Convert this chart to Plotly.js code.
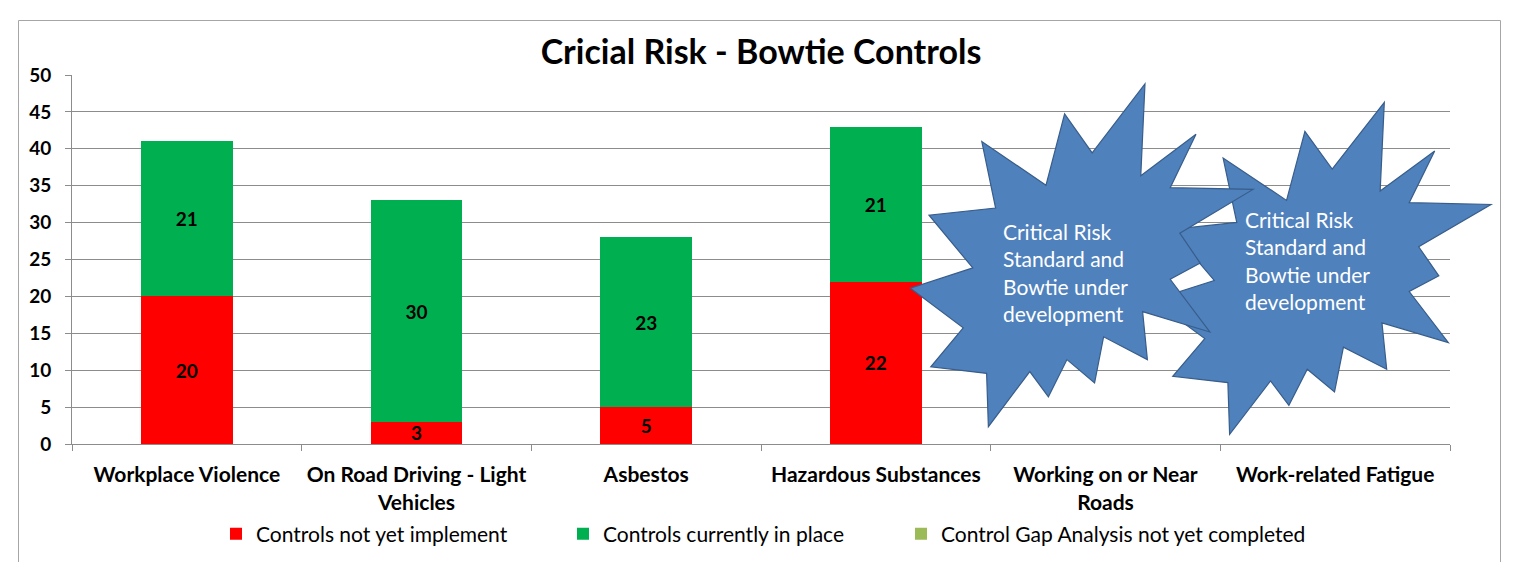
<!DOCTYPE html>
<html>
<head>
<meta charset="utf-8">
<script src="https://cdn.plot.ly/plotly-3.0.1.min.js"></script>
<style>
html,body{margin:0;padding:0;background:#fff;}
#chart{width:1520px;height:562px;}
</style>
</head>
<body>
<div id="chart"></div>
<script>
// ---- data ----
const categories = [
  "Workplace Violence",
  "On Road Driving - Light<br>Vehicles",
  "Asbestos",
  "Hazardous Substances",
  "Working on or Near<br>Roads",
  "Work-related Fatigue"
];
const notImplemented = [20, 3, 5, 22, 0, 0];
const inPlace        = [21, 30, 23, 21, 0, 0];
const gapNotDone     = [0, 0, 0, 0, 0, 0];
const seriesNames = [
  "Controls not yet implement",
  "Controls currently in place",
  "Control Gap Analysis not yet completed"
];
const seriesColors = ["#FF0000", "#00B050", "#9BBB59"];
const chartTitle = "Cricial Risk - Bowtie Controls";
const calloutText = "Critical Risk<br>Standard and<br>Bowtie under<br>development";

// ---- layout constants ----
const W = 1520, H = 562;
const M = {l: 72, r: 70, t: 75, b: 118, autoexpand: false};
const PW = W - M.l - M.r, PH = H - M.t - M.b;
const FONT = "Lato, 'Open Sans', sans-serif";
const GRID = "#8C8C8C";

function px2x(px){ return (px - M.l) / PW; }
function py2y(py){ return (H - M.b - py) / PH; }

// Explosion 2 outline (unit 21600 box)
const seal = [[11462,4342],[14790,0],[14525,5777],[18007,3172],[16380,6532],[21600,6645],
  [16985,9402],[18270,11290],[16380,12310],[18877,15632],[14640,14350],[14942,17370],
  [12180,15935],[11612,18842],[9872,17370],[8700,19712],[7527,18125],[4917,21600],
  [4805,18240],[1285,17825],[3330,15370],[0,12877],[3935,11592],[1172,8270],[5372,7817],
  [4502,3625],[8550,6382],[9722,1887]];
function sealPath(x0, y0, x1, y1){
  return seal.map((p,i)=>{
    const X = px2x(x0 + (x1-x0)*p[0]/21600);
    const Y = py2y(y0 + (y1-y0)*p[1]/21600);
    return (i ? "L" : "M") + X.toFixed(5) + "," + Y.toFixed(5);
  }).join(" ") + " Z";
}
const stars = [
  {box:[1152.6,102.3,1491,434.3], text:[1243,260]},
  {box:[910.4,84,1253,426.7], text:[1001,272]}
];

const legendIds = ["legend", "legend2", "legend3"];
const legendPx = [216, 563, 901];

const values = [notImplemented, inPlace, gapNotDone];
const traces = values.map((vals, i) => ({
  type: "bar",
  name: seriesNames[i],
  legend: legendIds[i],
  x: categories,
  y: vals,
  text: vals.map(v => v ? String(v) : ""),
  textposition: "inside",
  insidetextanchor: "middle",
  textangle: 0,
  constraintext: "none",
  cliponaxis: false,
  textfont: {family: FONT, size: 19, weight: "bold", color: "#000000"},
  marker: {color: seriesColors[i], line: {width: 0}},
  hoverinfo: "skip"
}));

const shapes = [
  {type:"rect", xref:"paper", yref:"paper",
   x0: px2x(18.5), x1: px2x(1500.5), y0: py2y(620), y1: py2y(20.5),
   line:{color:"#A6A6A6", width:1}, fillcolor:"rgba(0,0,0,0)", layer:"below"}
];
const annotations = [];
stars.forEach(s => {
  shapes.push({type:"path", xref:"paper", yref:"paper", path: sealPath(...s.box),
    fillcolor:"#4F81BD", line:{color:"#385D8A", width:1.2}, layer:"above"});
});
stars.forEach(s => {
  annotations.push({xref:"paper", yref:"paper", x: px2x(s.text[0]), y: py2y(s.text[1]),
    xanchor:"left", yanchor:"middle", align:"left", showarrow:false,
    text: calloutText, font:{family:FONT, size:21, color:"#FFFFFF"}});
});

const layout = {
  width: W, height: H,
  margin: M,
  paper_bgcolor: "#FFFFFF", plot_bgcolor: "#FFFFFF",
  barmode: "stack",
  bargap: 0.6,
  showlegend: true,
  title: {text: chartTitle, x: 0.5, xref: "paper", y: 1 - 52/H, yref: "container",
          xanchor: "center", yanchor: "middle",
          font: {family: FONT, size: 34, weight: "bold", color: "#000000"}},
  xaxis: {type: "category", tickson: "boundaries", ticks: "outside", ticklen: 6,
          tickcolor: GRID, showline: true, linecolor: GRID, linewidth: 1,
          showgrid: false, zeroline: false, ticklabelstandoff: 12, automargin: false,
          tickfont: {family: FONT, size: 21, weight: "bold", color: "#000000"}},
  yaxis: {range: [0, 50], dtick: 5, ticks: "outside", ticklen: 6, tickcolor: GRID,
          showline: true, linecolor: GRID, linewidth: 1, automargin: false,
          showgrid: true, gridcolor: GRID, gridwidth: 1, zeroline: false,
          ticklabelstandoff: 10,
          tickfont: {family: FONT, size: 19, weight: "bold", color: "#000000"}},
  shapes: shapes,
  annotations: annotations
};
legendIds.forEach((id, i) => {
  layout[id] = {orientation: "h", x: px2x(legendPx[i]), xanchor: "left",
                y: py2y(534), yanchor: "middle",
                font: {family: FONT, size: 21, color: "#000000"}};
});

Plotly.newPlot("chart", traces, layout, {displayModeBar: false, staticPlot: true});
</script>
</body>
</html>
